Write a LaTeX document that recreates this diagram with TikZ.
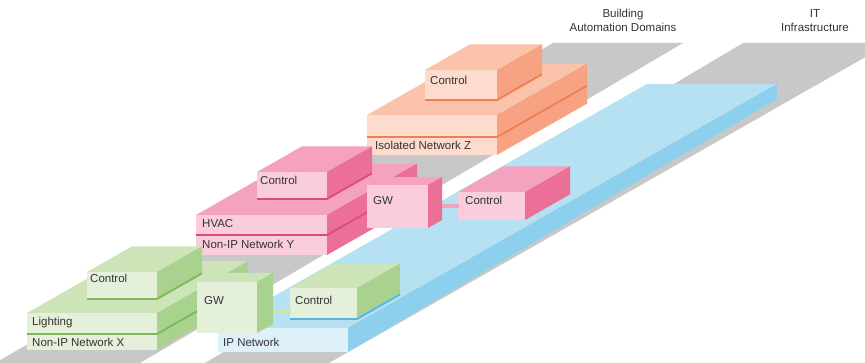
\documentclass[tikz,border=0pt]{standalone}
\usepackage{fontspec}
\setmainfont{Liberation Sans}
\usetikzlibrary{calc}

% palette
\definecolor{lane}{HTML}{C8C8C8}
\definecolor{txt}{HTML}{333333}
\definecolor{gfront}{HTML}{E4F0DA}
\definecolor{gtop}{HTML}{CCE4B8}
\definecolor{gside}{HTML}{A9D28F}
\definecolor{gline}{HTML}{7CB95A}
\definecolor{pfront}{HTML}{F9CDDB}
\definecolor{ptop}{HTML}{F4A2BE}
\definecolor{pside}{HTML}{EC6F98}
\definecolor{pline}{HTML}{DE4A7E}
\definecolor{ofront}{HTML}{FDDCCD}
\definecolor{otop}{HTML}{FBC3AA}
\definecolor{oside}{HTML}{F7A383}
\definecolor{oline}{HTML}{EF7F4F}
\definecolor{bfront}{HTML}{DEF0FA}
\definecolor{btop}{HTML}{B6E1F3}
\definecolor{bside}{HTML}{8DD0EE}
\definecolor{bline}{HTML}{55B6E4}

% slope of the receding edges
\def\kk{0.57}

% oblique box: x1, x2, top y, bottom y of the front face, depth, front/top/side colours
\newcommand\isobox[8]{%
  \fill[#7] (#1,#3) -- (#2,#3) -- ++({#5},{-\kk*#5}) -- ({#1+#5},{#3-\kk*#5}) -- cycle;
  \fill[#8] (#2,#3) -- (#2,#4) -- ++({#5},{-\kk*#5}) -- ({#2+#5},{#3-\kk*#5}) -- cycle;
  \fill[#6] (#1,#3) rectangle (#2,#4);
}
% coloured seam along the front and the side of a box: x1, x2, y, depth, colour
\newcommand\seam[5]{%
  \draw[#5, line width=1.8pt] (#1,#3) -- (#2,#3) -- ++({#4},{-\kk*#4});
}

\begin{document}
\begin{tikzpicture}[x=1pt, y=-1pt,
  lbl/.style={anchor=base west, inner sep=0pt, text=txt, font=\fontsize{11.5}{13}\selectfont},
  hdr/.style={anchor=base, inner sep=0pt, text=txt, font=\fontsize{11.5}{13}\selectfont}]

\useasboundingbox (0,0) rectangle (865,363);
\clip (0,0) rectangle (865,363);
\fill[white] (0,0) rectangle (865,363);

% ground lanes
\fill[lane] (553,43) -- (683,43) -- (140,363) -- (-5,363) -- cycle;
\fill[lane] (743,43) -- (890,43) -- (329,363) -- (205,363) -- cycle;

% isolated network Z (orange)
\isobox{367}{497}{115}{155}{90}{ofront}{otop}{oside}
\seam{367}{497}{137}{90}{oline}
\isobox{425}{497}{70}{100}{45}{ofront}{otop}{oside}
\seam{425}{497}{100}{45}{oline}

% IP network slab (blue)
\fill[btop] (218,328) -- (348,328) -- (777,84) -- (647,84) -- cycle;
\fill[bside] (348,328) -- (348,352) -- (777,99) -- (777,84) -- cycle;
\fill[bfront] (218,328) rectangle (348,352);

% non-IP network Y (pink)
\isobox{196}{327}{215}{255}{90}{pfront}{ptop}{pside}
\seam{196}{327}{235}{90}{pline}
\isobox{257}{327}{172}{199}{45}{pfront}{ptop}{pside}
\seam{257}{327}{199}{45}{pline}
% pink gateway, link and controller on the IP network
\isobox{458}{525}{192}{220}{45}{pfront}{ptop}{pside}
\fill[ptop] (428,204) rectangle (459,208);
\isobox{367}{428}{185}{228}{14}{pfront}{ptop}{pside}

% non-IP network X (green)
\isobox{27}{157}{313}{350}{91}{gfront}{gtop}{gside}
\seam{27}{157}{334}{91}{gline}
\isobox{87}{157}{272}{299}{45}{gfront}{gtop}{gside}
\seam{87}{157}{299}{45}{gline}
% green gateway, link and controller on the IP network
\isobox{290}{357}{288}{318}{43}{gfront}{gtop}{gside}
\seam{290}{357}{319}{43}{bline}
\fill[gtop] (257,309) rectangle (291,314);
\isobox{197}{257}{282}{333}{16}{gfront}{gtop}{gside}

% labels
\node[lbl] (zctl)  at (430,85)  {Control};
\node[lbl] (znet)  at (375,150) {Isolated Network Z};
\node[lbl] (yctl)  at (260,185) {Control};
\node[lbl] (hvac)  at (202,228) {HVAC};
\node[lbl] (ynet)  at (202,249) {Non-IP Network Y};
\node[lbl] (ygw)   at (373,205) {GW};
\node[lbl] (yipc)  at (465,205) {Control};
\node[lbl] (xctl)  at (90,283)  {Control};
\node[lbl] (light) at (32,326)  {Lighting};
\node[lbl] (xnet)  at (32,347)  {Non-IP Network X};
\node[lbl] (xgw)   at (204,305) {GW};
\node[lbl] (xipc)  at (295,305) {Control};
\node[lbl] (ipnet) at (223,347) {IP Network};

\node[hdr] (bad1) at (623,18) {Building};
\node[hdr] (bad2) at (623,32) {Automation Domains};
\node[hdr] (it1)  at (815,18) {IT};
\node[hdr] (it2)  at (815,32) {Infrastructure};
\end{tikzpicture}
\end{document}
